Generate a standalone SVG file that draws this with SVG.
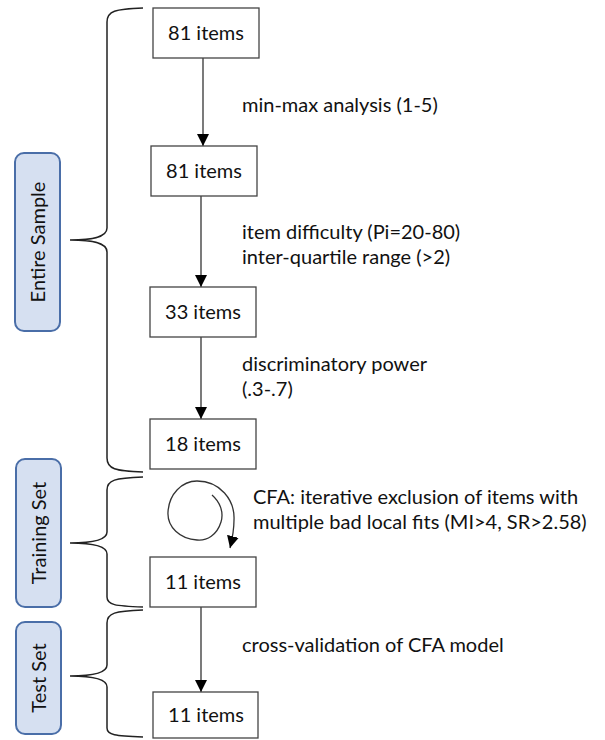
<svg xmlns="http://www.w3.org/2000/svg" width="605" height="740" viewBox="0 0 605 740">
<style>
.box{fill:#fff;stroke:#444;stroke-width:1.3}
.t{font-family:Lato,"Liberation Sans",sans-serif;font-size:20px;fill:#111}
.c{text-anchor:middle}
.lab{fill:#d6e0f1;stroke:#4a6ea8;stroke-width:2}
.br{fill:none;stroke:#222;stroke-width:1.5}
.ln{fill:none;stroke:#333;stroke-width:1.3}
</style>
<defs>
<marker id="ah" viewBox="0 0 10 10" refX="10" refY="5" markerWidth="12" markerHeight="12" markerUnits="userSpaceOnUse" orient="auto">
<path d="M0,0 L10,5 L0,10 z" fill="#000"/>
</marker>
</defs>
<rect width="605" height="740" fill="#fff"/>
<g id="braces">
<path class="br" d="M143,8 C115,9 107,11 107,22 L107,228 C107,238 90,240 70,240 C90,240 107,242 107,252 L107,458 C107,469 115,471 143,472"/>
<path class="br" d="M143,477 C115,478 107,480 107,490 L107,532 C107,541 90,543 70,543 C90,543 107,545 107,554 L107,597 C107,605 115,606 143,607"/>
<path class="br" d="M143,610 C115,611 107,613 107,623 L107,665 C107,674 90,676 70,676 C90,676 107,678 107,687 L107,728 C107,735 115,736 143,737"/>
</g>
<g id="label-entire">
<rect class="lab" x="15" y="153" width="45" height="178" rx="9"/>
<text class="t c" transform="translate(45,242) rotate(-90)">Entire Sample</text>
</g>
<g id="label-training">
<rect class="lab" x="16" y="459" width="45" height="148" rx="9"/>
<text class="t c" transform="translate(46,533) rotate(-90)">Training Set</text>
</g>
<g id="label-test">
<rect class="lab" x="16" y="622" width="45" height="112" rx="9"/>
<text class="t c" transform="translate(46,678) rotate(-90)">Test Set</text>
</g>
<g id="connectors">
<line class="ln" x1="203" y1="58" x2="203" y2="146" marker-end="url(#ah)"/>
<line class="ln" x1="201" y1="196" x2="201" y2="287" marker-end="url(#ah)"/>
<line class="ln" x1="201" y1="337" x2="201" y2="419" marker-end="url(#ah)"/>
<line class="ln" x1="201" y1="607" x2="201" y2="692" marker-end="url(#ah)"/>
<path class="ln" d="M212,495 C220,502 224,512 221,522 C217,535 207,541 197,540 C180,539 167,527 168,512 C169,494 182,481 197,481 C220,481 235,500 234,520 C234,532 232,540 230,548" marker-end="url(#ah)"/>
</g>
<g id="n1"><rect class="box" x="153" y="8" width="106" height="50"/><text class="t c" x="206" y="40">81 items</text></g>
<g id="n2"><rect class="box" x="151" y="146" width="106" height="50"/><text class="t c" x="204" y="178">81 items</text></g>
<g id="n3"><rect class="box" x="150" y="287" width="106" height="50"/><text class="t c" x="203" y="319">33 items</text></g>
<g id="n4"><rect class="box" x="150" y="419" width="106" height="50"/><text class="t c" x="203" y="451">18 items</text></g>
<g id="n5"><rect class="box" x="150" y="557" width="106" height="50"/><text class="t c" x="203" y="589">11 items</text></g>
<g id="n6"><rect class="box" x="153" y="692" width="105" height="46"/><text class="t c" x="206" y="722">11 items</text></g>
<g id="labels">
<text class="t" x="242" y="112">min-max analysis (1-5)</text>
<text class="t" x="242" y="239">item difficulty (Pi=20-80)</text>
<text class="t" x="242" y="264">inter-quartile range (&gt;2)</text>
<text class="t" x="242" y="371">discriminatory power</text>
<text class="t" x="242" y="396">(.3-.7)</text>
<text class="t" x="253" y="504">CFA: iterative exclusion of items with</text>
<text class="t" x="253" y="529">multiple bad local fits (MI&gt;4, SR&gt;2.58)</text>
<text class="t" x="242" y="652">cross-validation of CFA model</text>
</g>
</svg>
